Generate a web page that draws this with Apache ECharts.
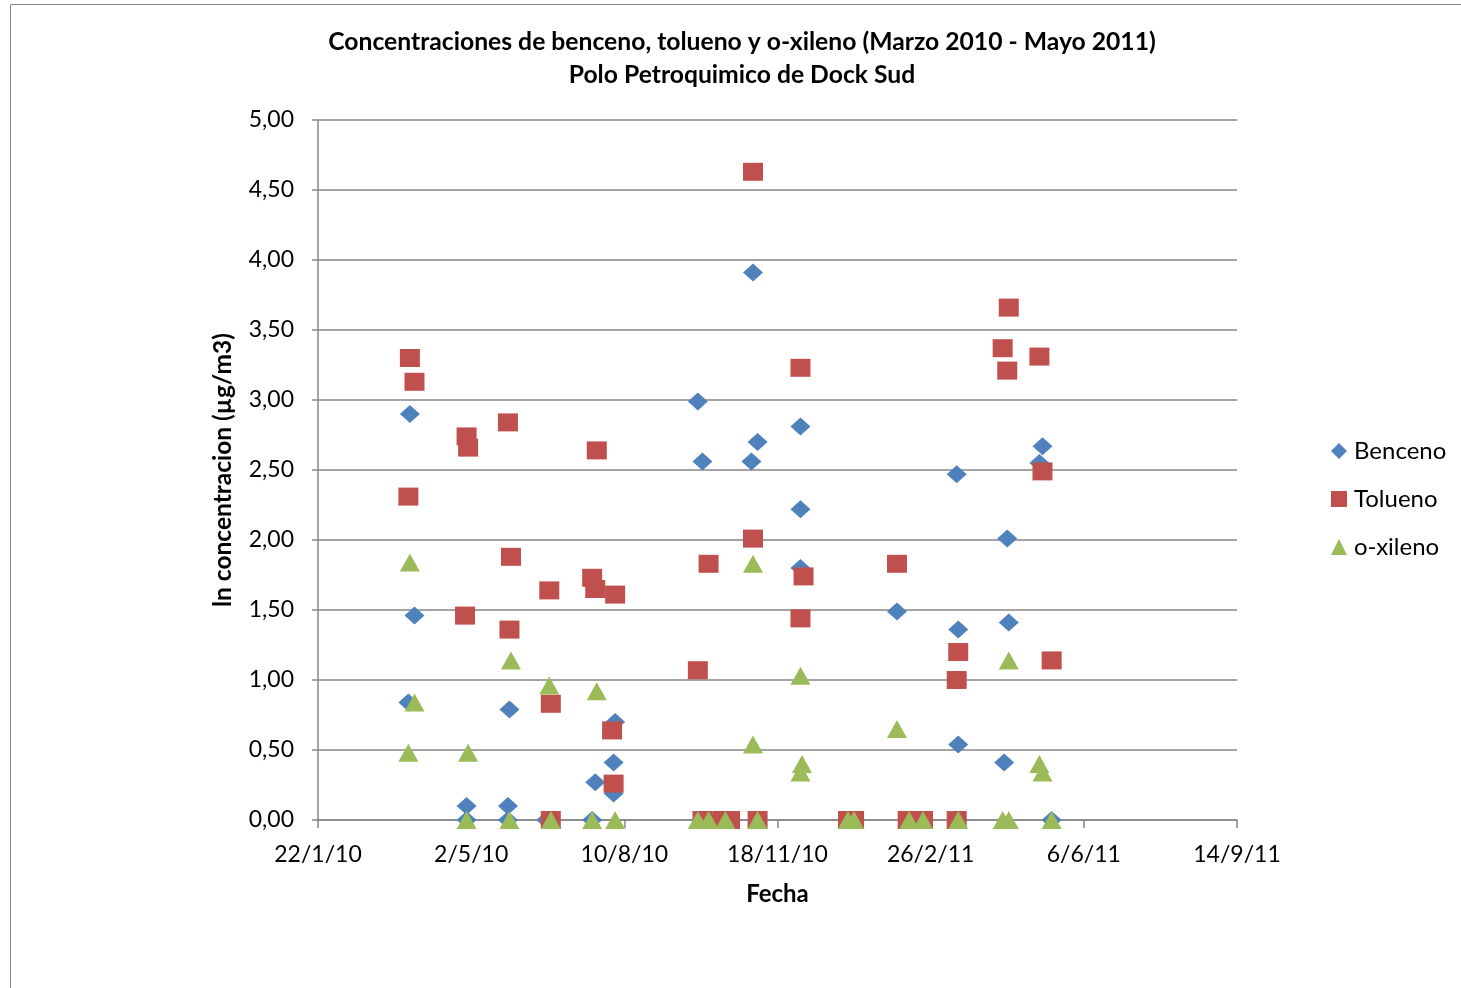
<!DOCTYPE html>
<html lang="es">
<head>
    <meta charset="UTF-8">
    <title>Concentraciones BTX - Dock Sud</title>
    <style>
        html, body { margin: 0; padding: 0; background: #fff; }
        #main { width: 1461px; height: 988px; }
    </style>
</head>
<body>
<div id="main"></div>
<script src="https://cdn.jsdelivr.net/npm/echarts@6/dist/echarts.min.js"></script>
<script type="text/javascript">
    // fechas de muestreo y ln de concentracion
    var benceno = [
        ['2010-03-23', 2.90], ['2010-03-26', 1.46], ['2010-03-22', 0.84],
        ['2010-04-29', 0.10], ['2010-04-29', 0.00],
        ['2010-05-27', 0.79], ['2010-05-26', 0.10], ['2010-05-26', 0.00],
        ['2010-06-20', 0.00],
        ['2010-07-20', 0.00], ['2010-07-22', 0.27],
        ['2010-08-03', 0.41], ['2010-08-03', 0.19], ['2010-08-04', 0.70],
        ['2010-09-27', 2.99], ['2010-09-30', 2.56], ['2010-10-04', 0.00],
        ['2010-11-02', 3.91], ['2010-11-01', 2.56], ['2010-11-05', 2.70],
        ['2010-12-03', 2.81], ['2010-12-03', 2.22], ['2010-12-03', 1.80],
        ['2011-02-04', 1.49],
        ['2011-03-15', 2.47], ['2011-03-16', 1.36], ['2011-03-16', 0.54],
        ['2011-04-15', 0.41], ['2011-04-17', 2.01], ['2011-04-18', 1.41],
        ['2011-05-10', 2.67], ['2011-05-08', 2.55], ['2011-05-16', 0.00]
    ];
    var tolueno = [
        ['2010-03-23', 3.30], ['2010-03-26', 3.13], ['2010-03-22', 2.31],
        ['2010-04-29', 2.74], ['2010-04-30', 2.66], ['2010-04-28', 1.46],
        ['2010-05-26', 2.84], ['2010-05-28', 1.88], ['2010-05-27', 1.36],
        ['2010-06-22', 1.64], ['2010-06-23', 0.83], ['2010-06-23', 0.00],
        ['2010-07-23', 2.64], ['2010-07-20', 1.73], ['2010-07-22', 1.65],
        ['2010-08-04', 1.61], ['2010-08-02', 0.64], ['2010-08-03', 0.26],
        ['2010-09-27', 1.07], ['2010-10-04', 1.83],
        ['2010-09-30', 0.00], ['2010-10-13', 0.00], ['2010-10-18', 0.00],
        ['2010-11-02', 4.63], ['2010-11-02', 2.01], ['2010-11-05', 0.00],
        ['2010-12-03', 3.23], ['2010-12-05', 1.74], ['2010-12-03', 1.44],
        ['2011-01-03', 0.00], ['2011-01-07', 0.00],
        ['2011-02-04', 1.83], ['2011-02-11', 0.00], ['2011-02-21', 0.00],
        ['2011-03-16', 1.20], ['2011-03-15', 1.00], ['2011-03-15', 0.00],
        ['2011-04-18', 3.66], ['2011-04-14', 3.37], ['2011-04-17', 3.21],
        ['2011-05-08', 3.31], ['2011-05-10', 2.49], ['2011-05-16', 1.14]
    ];
    var oxileno = [
        ['2010-03-23', 1.84], ['2010-03-26', 0.84], ['2010-03-22', 0.48],
        ['2010-04-30', 0.48], ['2010-04-29', 0.00],
        ['2010-05-28', 1.14], ['2010-05-27', 0.00],
        ['2010-06-22', 0.96], ['2010-06-23', 0.00],
        ['2010-07-23', 0.92], ['2010-07-20', 0.00], ['2010-08-04', 0.00],
        ['2010-09-27', 0.00], ['2010-10-04', 0.00], ['2010-10-15', 0.00],
        ['2010-11-02', 1.83], ['2010-11-02', 0.54], ['2010-11-05', 0.00],
        ['2010-12-03', 1.03], ['2010-12-04', 0.40], ['2010-12-03', 0.34],
        ['2011-01-03', 0.00], ['2011-01-07', 0.00],
        ['2011-02-04', 0.65], ['2011-02-12', 0.00], ['2011-02-21', 0.00],
        ['2011-03-16', 0.00],
        ['2011-04-18', 1.14], ['2011-04-14', 0.00], ['2011-04-18', 0.00],
        ['2011-05-08', 0.40], ['2011-05-10', 0.34], ['2011-05-16', 0.00]
    ];
    // eje X en numero de serie de Excel: 40200 = 22/1/10, paso 100 dias
    var xTicks = ['22/1/10', '2/5/10', '10/8/10', '18/11/10', '26/2/11', '6/6/11', '14/9/11'];
    var xMin = 40200, xStep = 100;

    function serial(d) {
        var p = d.split('-');
        return Math.round((Date.UTC(+p[0], +p[1] - 1, +p[2]) - Date.UTC(1899, 11, 30)) / 86400000);
    }
    function toXY(arr) {
        return arr.map(function (r) { return [serial(r[0]), r[1]]; });
    }

    var font = 'Lato';
    var chart = echarts.init(document.getElementById('main'));
    var option = {
        animation: false,
        textStyle: { fontFamily: font },
        graphic: [{
            type: 'rect', silent: true,
            shape: { x: 10.5, y: 4.5, width: 1460, height: 990 },
            style: { fill: 'none', stroke: '#868686', lineWidth: 1 }
        }],
        title: {
            text: 'Concentraciones de benceno, tolueno y o-xileno (Marzo 2010 - Mayo 2011)\nPolo Petroquimico de Dock Sud',
            left: 737, top: 21, textAlign: 'center',
            textStyle: { fontFamily: font, fontSize: 24.7, fontWeight: 'bold', color: '#000', lineHeight: 33 }
        },
        legend: {
            orient: 'vertical', left: 1326, top: 434,
            itemWidth: 16, itemHeight: 16, itemGap: 24,
            textStyle: { fontFamily: font, fontSize: 24, color: '#000', padding: [0, 0, 0, 2] },
            data: [
                { name: 'Benceno', icon: 'diamond' },
                { name: 'Tolueno', icon: 'rect' },
                { name: 'o-xileno', icon: 'triangle' }
            ]
        },
        grid: { left: 318, right: 224, top: 120, bottom: 168, containLabel: false },
        xAxis: {
            type: 'value', min: xMin, max: xMin + xStep * (xTicks.length - 1), interval: xStep,
            name: 'Fecha', nameLocation: 'middle', nameGap: 62,
            nameTextStyle: { fontFamily: font, fontSize: 24, fontWeight: 'bold', color: '#000' },
            axisLine: { show: true, lineStyle: { color: '#868686', width: 1.5 } },
            axisTick: { show: true, length: 8, lineStyle: { color: '#868686', width: 1.5 } },
            axisLabel: {
                fontFamily: font, fontSize: 23, color: '#000', margin: 23,
                formatter: function (v) { return xTicks[Math.round((v - xMin) / xStep)]; }
            },
            splitLine: { show: false }
        },
        yAxis: {
            type: 'value', min: 0, max: 5, interval: 0.5,
            name: 'ln concentracion (µg/m3)', nameLocation: 'middle', nameGap: 82,
            nameTextStyle: { fontFamily: font, fontSize: 24.5, fontWeight: 'bold', color: '#000' },
            axisLine: { show: true, lineStyle: { color: '#868686', width: 1.5 } },
            axisTick: { show: true, inside: false, length: 6, lineStyle: { color: '#868686', width: 1.5 } },
            axisLabel: {
                fontFamily: font, fontSize: 23, color: '#000', margin: 24,
                formatter: function (v) { return v.toFixed(2).replace('.', ','); }
            },
            splitLine: { show: true, lineStyle: { color: '#868686', width: 1.5 } }
        },
        series: [
            {
                name: 'Benceno', type: 'scatter', symbol: 'diamond', symbolSize: [20, 18],
                itemStyle: { color: '#4F81BD', opacity: 1 }, data: toXY(benceno)
            },
            {
                name: 'Tolueno', type: 'scatter', symbol: 'rect', symbolSize: [20, 18],
                itemStyle: { color: '#C0504D', opacity: 1 }, data: toXY(tolueno)
            },
            {
                name: 'o-xileno', type: 'scatter', symbol: 'triangle', symbolSize: [20, 18],
                itemStyle: { color: '#9BBB59', opacity: 1 }, data: toXY(oxileno)
            }
        ]
    };
    option && chart.setOption(option);
</script>
</body>
</html>
